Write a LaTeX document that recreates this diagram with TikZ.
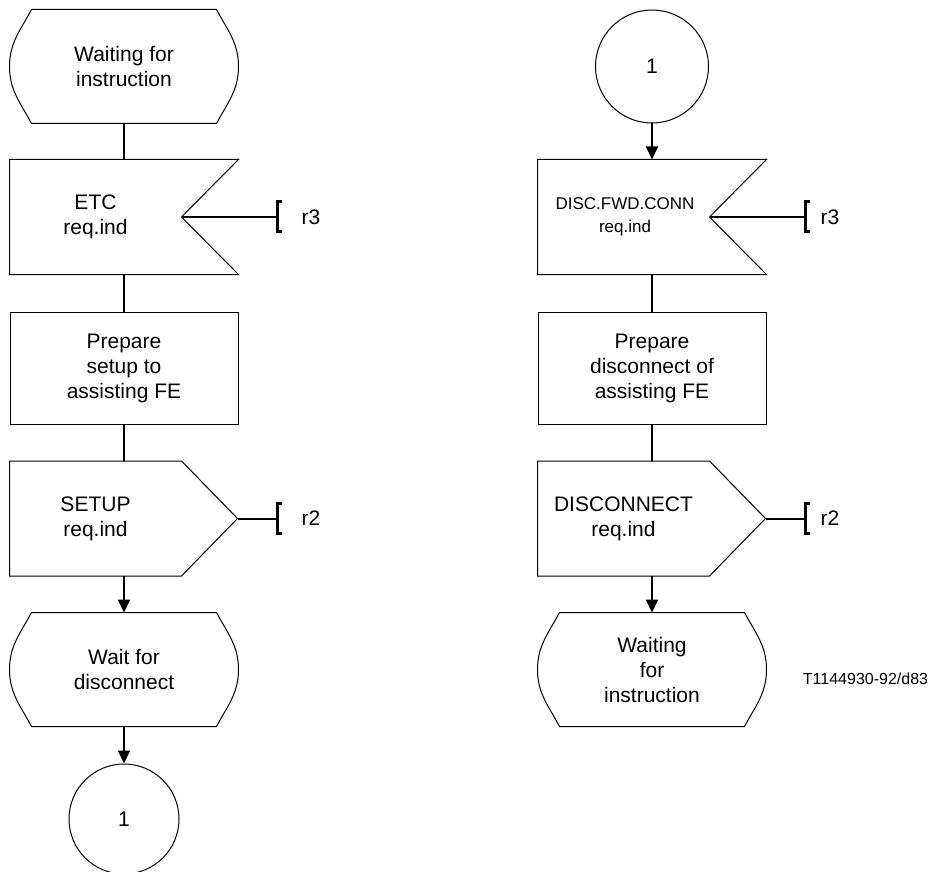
\documentclass[tikz,border=0pt]{standalone}
\usepackage{fontspec}
\setmainfont{Liberation Sans}
\usetikzlibrary{arrows.meta, calc}
\tikzset{
  every picture/.style={x=1pt, y=-1pt, line width=1pt},
  body/.style={rectangle, inner sep=0pt, align=center, font=\fontsize{21}{25}\selectfont},
  statebox/.style={body, minimum width=228pt, minimum height=113pt},
  sigbox/.style={body, minimum width=171pt, minimum height=114pt},
  taskbox/.style={body, draw, minimum width=228pt, minimum height=112pt},
  connbox/.style={body, circle, draw, minimum size=#1},
  connbox/.default=113pt,
  flow/.style={line width=2pt},
  arrow/.style={flow, -{Triangle[length=13pt, width=12pt]}},
  bracket/.style={line width=3pt},
  siglabel/.style={body},
  note/.style={font=\fontsize{16}{19}\selectfont},
}

\begin{document}
\begin{tikzpicture}
  \useasboundingbox (0,0) rectangle (930,872);
  % left column
  \node[statebox] (st1) at (124,66.5) {Waiting for\\instruction};
  \node[sigbox] (in1) at (95.5,217) {ETC\\req.ind};
  \node[taskbox] (task1) at (124,368) {Prepare\\setup to\\assisting FE};
  \node[sigbox] (out1) at (95.5,518.5) {SETUP\\req.ind};
  \node[statebox] (st2) at (124,669.5) {Wait for\\disconnect};
  \node[connbox=110pt] (c1) at (124,819) {1};
  % right column
  \node[connbox] (c2) at (652,66.5) {1};
  \node[sigbox, font=\fontsize{17}{23}\selectfont] (in2) at (625,217) {DISC.FWD.CONN\\req.ind};
  \node[taskbox] (task2) at (652,368) {Prepare\\disconnect of\\assisting FE};
  \node[sigbox] (out2) at (623.5,518.5) {DISCONNECT\\req.ind};
  \node[statebox] (st3) at (652,669.5) {Waiting\\for\\instruction};
  \node[note] (fig) at (865.5,679) {T1144930-92/d83};
  % outlines
  \foreach \n in {st1,st2,st3}
    \draw ($(\n.north west)+(22,0)$) -- ($(\n.north east)+(-22,0)$) to[out=-62,in=90] (\n.east)
      to[out=-90,in=62] ($(\n.south east)+(-22,0)$) -- ($(\n.south west)+(22,0)$)
      to[out=118,in=-90] (\n.west) to[out=90,in=-118] ($(\n.north west)+(22,0)$) -- cycle;
  \draw ($(in2.north west)+(-1.5,0)$) -- ($(in2.north east)+(55.5,0)$) -- ($(in2.east)+(-1.5,0)$)
    -- ($(in2.south east)+(55.5,0)$) -- ($(in2.south west)+(-1.5,0)$) -- cycle;
  \draw (in1.north west) -- ($(in1.north east)+(57,0)$) -- (in1.east)
    -- ($(in1.south east)+(57,0)$) -- (in1.south west) -- cycle;
  \foreach \n in {out1,out2}
    \draw (\n.north west) -- (\n.north east) -- ($(\n.east)+(56,0)$) -- (\n.south east) -- (\n.south west) -- cycle;
  % flow lines
  \draw[flow] (st1.south) -- (st1.south |- in1.north);
  \draw[flow] (in1.south -| task1) -- (task1.north);
  \draw[flow] (task1.south) -- (task1.south |- out1.north);
  \draw[arrow] (out1.south -| st2) -- (st2.north);
  \draw[arrow] (st2.south) -- (c1.north);
  \draw[arrow] (c2.south) -- (c2.south |- in2.north);
  \draw[flow] (in2.south -| task2) -- (task2.north);
  \draw[flow] (task2.south) -- (task2.south |- out2.north);
  \draw[arrow] (out2.south -| st3) -- (st3.north);
  % signal routes
  \foreach \b/\x/\y in {b1/277/217, b2/277/518.5, b3/805/217, b4/805/518.5}
    \coordinate (\b) at (\x,\y);
  \draw[flow] (in1.east) -- (b1);
  \draw[flow] ($(out1.east)+(56,0)$) -- (b2);
  \draw[flow] ($(in2.east)+(-1.5,0)$) -- (b3);
  \draw[flow] ($(out2.east)+(56,0)$) -- (b4);
  \foreach \b in {b1,b2,b3,b4}
    \draw[bracket] ($(\b)+(5,-15)$) -- ($(\b)+(0,-15)$) -- ($(\b)+(0,15)$) -- ($(\b)+(5,15)$);
  \node[siglabel] (r3a) at (311,217) {r3};
  \node[siglabel] (r2a) at (311,518.5) {r2};
  \node[siglabel] (r3b) at (830,217) {r3};
  \node[siglabel] (r2b) at (830,518.5) {r2};
\end{tikzpicture}
\end{document}
